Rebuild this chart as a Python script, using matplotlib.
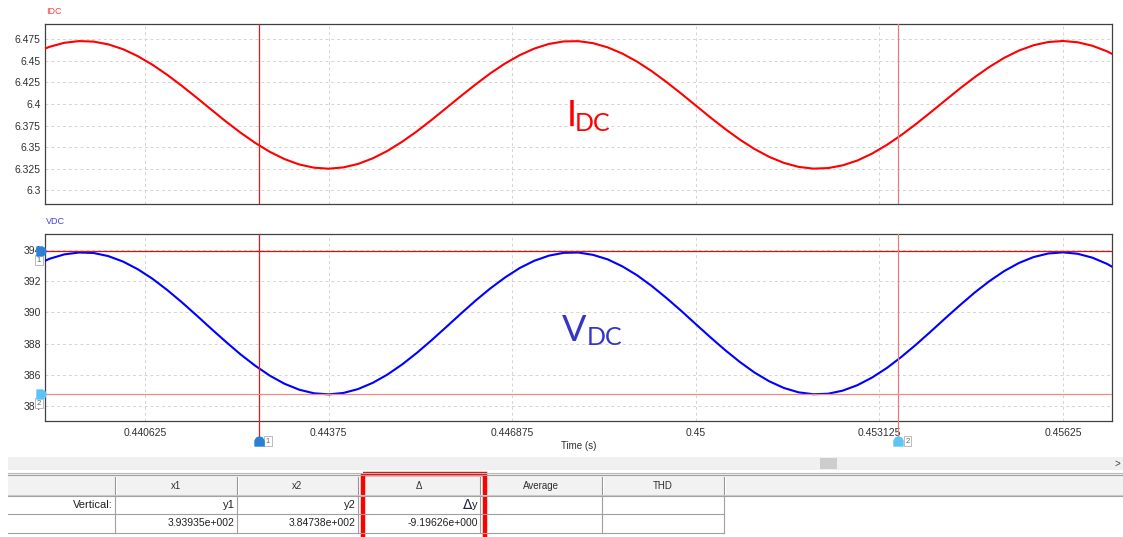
import numpy as np
import matplotlib
matplotlib.use("Agg")
import matplotlib.pyplot as plt
from matplotlib.path import Path
from matplotlib.patches import Rectangle
from matplotlib.transforms import blended_transform_factory, offset_copy

plt.rcParams['font.family'] = ['Liberation Sans', 'DejaVu Sans']

# scope capture, one sample every 0.25 ms starting at t_start
t_start = 0.43875
t_step = 0.00025

idc = [6.4593, 6.4663, 6.4709, 6.4729, 6.4723, 6.4691, 6.4635, 6.4555, 6.4455, 6.4339,
       6.4211, 6.4075, 6.3936, 6.3798, 6.3668, 6.3549, 6.3445, 6.3361, 6.3299, 6.3262,
       6.3250, 6.3265, 6.3305, 6.3370, 6.3456, 6.3562, 6.3682, 6.3814, 6.3952, 6.4091,
       6.4226, 6.4354, 6.4468, 6.4565, 6.4642, 6.4696, 6.4725, 6.4728, 6.4705, 6.4656,
       6.4584, 6.4491, 6.4380, 6.4255, 6.4121, 6.3982, 6.3843, 6.3710, 6.3587, 6.3478,
       6.3387, 6.3317, 6.3271, 6.3251, 6.3257, 6.3289, 6.3345, 6.3425, 6.3525, 6.3641,
       6.3769, 6.3905, 6.4044, 6.4182, 6.4312, 6.4431, 6.4535, 6.4619, 6.4681, 6.4718,
       6.4730, 6.4715, 6.4675, 6.4610, 6.4524]

vdc = [393.02, 393.45, 393.73, 393.85, 393.82, 393.62, 393.27, 392.78, 392.17, 391.45,
       390.66, 389.82, 388.96, 388.12, 387.31, 386.58, 385.94, 385.42, 385.04, 384.81,
       384.74, 384.83, 385.08, 385.48, 386.01, 386.66, 387.40, 388.21, 389.06, 389.92,
       390.76, 391.54, 392.24, 392.85, 393.32, 393.65, 393.83, 393.85, 393.70, 393.41,
       392.96, 392.39, 391.70, 390.93, 390.11, 389.25, 388.40, 387.58, 386.82, 386.14,
       385.58, 385.15, 384.87, 384.75, 384.78, 384.98, 385.33, 385.82, 386.43, 387.15,
       387.94, 388.78, 389.64, 390.48, 391.29, 392.02, 392.66, 393.18, 393.56, 393.79,
       393.86, 393.77, 393.52, 393.12, 392.59]

time = t_start + t_step * np.arange(len(idc))

# cursor positions
cursor_x = [0.442566, 0.453449]
cursor_y = [393.9346, 384.73834]

x_ticks = [0.440625, 0.44375, 0.446875, 0.45, 0.453125, 0.45625]
x_labels = ['0.440625', '0.44375', '0.446875', '0.45', '0.453125', '0.45625']
idc_ticks = [6.3, 6.325, 6.35, 6.375, 6.4, 6.425, 6.45, 6.475]
idc_labels = ['6.3', '6.325', '6.35', '6.375', '6.4', '6.425', '6.45', '6.475']
vdc_ticks = [384, 386, 388, 390, 392, 394]

table_cols = ['', 'x1', 'x2', '\u0394', 'Average', 'THD']
table_row1 = ['Vertical:', 'y1', 'y2', '\u0394y', '', '']


def sci(v):
    m, e = ('%.5e' % v).split('e')
    return '%se%+04d' % (m, int(e))


W, H = 1123, 537
fig = plt.figure(figsize=(W / 100, H / 100), dpi=100)
fig.patch.set_facecolor('white')

# window chrome: scroll bar and cursor table, drawn in pixel units
ui = fig.add_axes([0, 0, 1, 1], zorder=0)
ui.set_xlim(0, W)
ui.set_ylim(H, 0)
ui.axis('off')

ui.add_patch(Rectangle((8, 457), W - 8, 13, fc='#f0f0f0', ec='none'))
ui.add_patch(Rectangle((820, 458), 17, 11, fc='#cdcdcd', ec='none'))
ui.text(1117, 463.5, '>', fontsize=7, ha='center', va='center', color='#404040')

col_edges = [8, 115, 237, 358, 480, 602, 724]
ui.add_patch(Rectangle((8, 474), W - 8, 21, fc='#f2f2f2', ec='none'))
ui.plot([8, W], [472.5, 472.5], color='#b8b8b8', lw=0.8)
ui.plot([8, W], [474.5, 474.5], color='#a0a0a0', lw=0.8)
ui.plot([8, W], [495.5, 495.5], color='#a0a0a0', lw=0.8)
ui.plot([8, W], [494.5, 494.5], color='#c8c8c8', lw=0.8)
for xe in col_edges[1:]:
    ui.plot([xe, xe], [477, 494], color='#909090', lw=0.8)
    ui.plot([xe + 1, xe + 1], [477, 494], color='white', lw=0.8)
for xe in col_edges[1:]:
    ui.plot([xe, xe], [495.5, 532.5], color='#a0a0a0', lw=0.8)
ui.plot([8, 724], [513.5, 513.5], color='#a0a0a0', lw=0.8)
ui.plot([8, 724], [532.5, 532.5], color='#a0a0a0', lw=0.8)

row2 = ['', sci(cursor_y[0]), sci(cursor_y[1]), sci(cursor_y[1] - cursor_y[0]), '', '']
for i, name in enumerate(table_cols):
    xc = (col_edges[i] + col_edges[i + 1]) / 2
    ui.text(xc, 486, name, fontsize=7, ha='center', va='center', color='#303030')
for i, name in enumerate(table_row1):
    xr = col_edges[i + 1] - 2
    if name == '\u0394y':
        # larger delta sign followed by the y
        ui.text(xr, 505, 'y', fontsize=8, ha='right', va='center', color='#202020')
        ui.text(xr - 6, 505, '\u0394', fontsize=10, ha='right', va='center',
                color='#202040', family='DejaVu Sans')
        continue
    ui.text(xr, 505, name, fontsize=8, ha='right', va='center', color='#202020')
for i, name in enumerate(row2):
    ui.text(col_edges[i + 1] - 2, 523, name, fontsize=7.5, ha='right', va='center', color='#202020')

ui.add_patch(Rectangle((363, 473.5), 122, 70, fc='none', ec='#ff0000', lw=3.2, clip_on=False))

# plot panels
ax1 = fig.add_axes([45 / W, 1 - 204 / H, 1067 / W, 180 / H], zorder=1)
ax2 = fig.add_axes([45 / W, 1 - 421 / H, 1067 / W, 187 / H], zorder=1)

for ax in (ax1, ax2):
    ax.set_xlim(0.438922, 0.457084)
    ax.set_xticks(x_ticks)
    ax.grid(True, color='#d4d4d4', ls=(0, (3, 3)), lw=0.7)
    ax.set_axisbelow(True)
    for s in ax.spines.values():
        s.set_color('#404040')
        s.set_linewidth(0.9)
    ax.tick_params(length=0, labelsize=7.5, labelcolor='#303030', pad=3)

ax1.plot(time, idc, color='#ff0000', lw=1.5, zorder=3)
ax1.set_ylim(6.2841, 6.4927)
ax1.set_yticks(idc_ticks)
ax1.set_yticklabels(idc_labels)
ax1.tick_params(labelbottom=False)

ax2.plot(time, vdc, color='#0000ff', lw=1.5, zorder=3)
ax2.set_ylim(383.03, 395.04)
ax2.set_yticks(vdc_ticks)
ax2.set_xticklabels(x_labels)
ax2.tick_params(axis='x', pad=5)
ax2.set_xlabel('Time (s)', fontsize=7, color='#303030', labelpad=2)

fig.text(46 / W, 1 - 12 / H, 'IDC', fontsize=6.5, color='#ff4040', va='center')
fig.text(46 / W, 1 - 222 / H, 'VDC', fontsize=6.5, color='#4040f0', va='center')

ax1.text(0.4892, 0.4333, 'I', transform=ax1.transAxes, fontsize=26, color='#ff0000',
         family='Lato', va='baseline')
ax1.text(0.4967, 0.4056, 'DC', transform=ax1.transAxes, fontsize=18, color='#ff0000',
         family='Lato', va='baseline')
ax2.text(0.4845, 0.4278, 'V', transform=ax2.transAxes, fontsize=26, color='#3535c8',
         family='Lato', va='baseline')
ax2.text(0.508, 0.4064, 'DC', transform=ax2.transAxes, fontsize=18, color='#3535c8',
         family='Lato', va='baseline')

# cursors
vcol = ['#e81818', '#ec7a7a']
hcol = ['#d81010', '#f08a8a']
mcol = ['#2b7fd4', '#5ec4f5']
ax1.axvline(cursor_x[0], color=vcol[0], lw=0.9, zorder=4)
ax1.axvline(cursor_x[1], color=vcol[1], lw=0.9, zorder=4)
for k in range(2):
    ax2.axvline(cursor_x[k], ymin=-0.085, ymax=1, color=vcol[k], lw=0.9, zorder=4, clip_on=False)
    ax2.axhline(cursor_y[k], color=hcol[k], lw=0.9, zorder=4)

up_marker = Path([(-1, -1), (1, -1), (1, 0.2), (0.6, 0.8), (0, 1), (-0.6, 0.8), (-1, 0.2), (-1, -1)],
                 closed=True)
right_marker = Path([(-1, -1), (0.2, -1), (0.8, -0.6), (1, 0), (0.8, 0.6), (0.2, 1), (-1, 1), (-1, -1)],
                    closed=True)
box = dict(boxstyle='square,pad=0.2', fc='white', ec='#b0b0b0', lw=0.6)

bx = blended_transform_factory(ax2.transData, ax2.transAxes)
by = blended_transform_factory(ax2.transAxes, ax2.transData)
for k in range(2):
    ax2.plot([cursor_x[k]], [-0.109], transform=bx, marker=up_marker, ms=6.5,
             color=mcol[k], mec=mcol[k], clip_on=False, zorder=6)
    ax2.text(cursor_x[k], -0.109, str(k + 1), fontsize=5.5, color='#606060', ha='center', va='center',
             transform=offset_copy(bx, fig=fig, x=9, y=0, units='dots'), bbox=box, zorder=5)
    ax2.plot([0], [cursor_y[k]], transform=offset_copy(by, fig=fig, x=-4, y=0, units='dots'),
             marker=right_marker, ms=6.5, color=mcol[k], mec=mcol[k], clip_on=False, zorder=6)
    ax2.text(0, cursor_y[k], str(k + 1), fontsize=5.5, color='#606060', ha='center', va='center',
             transform=offset_copy(by, fig=fig, x=-6, y=-9, units='dots'), bbox=box, zorder=5)

fig.savefig('out.png', dpi=100, facecolor='white')
